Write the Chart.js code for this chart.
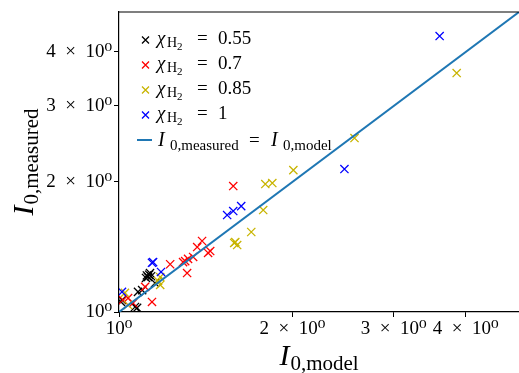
<!DOCTYPE html>
<html><head><meta charset="utf-8">
<script src="https://cdn.jsdelivr.net/npm/chart.js@4/dist/chart.umd.min.js"></script>
<style>html,body{margin:0;padding:0;background:#fff}#wrap{width:519px;height:373px;position:relative}</style>
</head><body><div id="wrap"><canvas id="c" width="519" height="373"></canvas></div>
<script>
// ---- data ----
const seriesNames = ['0.55', '0.7', '0.85', '1'];
const seriesColors = ['#000000', '#ff0000', '#c8b400', '#0000ff'];
const blackX = [1.123, 1.132, 1.114, 1.137, 1.128, 1.118, 1.155, 1.097, 1.079, 1.012, 1.008, 1.066, 1.075];
const blackY = [1.205, 1.231, 1.199, 1.210, 1.220, 1.215, 1.167, 1.124, 1.113, 1.066, 1.055, 1.027, 1.022];
const redX = [1.579, 1.394, 1.367, 1.440, 1.428, 1.345, 1.303, 1.292, 1.318, 1.227, 1.313, 1.141, 1.110, 1.037, 1.016, 1.058];
const redY = [1.957, 1.460, 1.414, 1.384, 1.370, 1.341, 1.312, 1.305, 1.327, 1.290, 1.231, 1.055, 1.143, 1.077, 1.066, 1.049];
const yellowX = [3.858, 2.564, 2.008, 1.795, 1.846, 1.780, 1.697, 1.592, 1.604, 1.585, 1.179, 1.169, 1.179, 1.024, 1.037];
const yellowY = [3.575, 2.528, 2.131, 1.978, 1.989, 1.722, 1.532, 1.452, 1.429, 1.445, 1.205, 1.180, 1.155, 1.107, 1.038];
const blueX = [3.604, 2.463, 1.541, 1.579, 1.630, 1.146, 1.141, 1.183, 1.012];
const blueY = [4.354, 2.143, 1.677, 1.713, 1.759, 1.305, 1.300, 1.238, 1.113];
const identityLine = [1, 4.95];
const tickValues = [1, 2, 3, 4];
const tickLabels = ['10⁰', '2\u2002×\u200210⁰', '3\u2002×\u200210⁰', '4\u2002×\u200210⁰'];
const axisMin = 1, axisMax = 4.95;

const SERIF = '"Liberation Serif", "DejaVu Serif", serif';
const pts = (xs, ys) => xs.map((x, i) => ({x: x, y: ys[i]}));
const allSeries = [[blackX, blackY], [redX, redY], [yellowX, yellowY], [blueX, blueY]];

const datasets = allSeries.map((s, i) => ({
  label: seriesNames[i],
  data: pts(s[0], s[1]),
  pointStyle: 'crossRot',
  pointRadius: 5.8,
  pointHoverRadius: 5.8,
  borderWidth: 1.3,
  borderColor: seriesColors[i],
  backgroundColor: seriesColors[i],
  showLine: false,
  order: 4 - i
}));
datasets.push({
  type: 'line',
  label: 'identity',
  data: identityLine.map(v => ({x: v, y: v})),
  borderColor: '#1f77b4',
  borderWidth: 2,
  pointRadius: 0,
  showLine: true,
  fill: false,
  order: 0
});

function rich(ctx, x, y, parts) {
  let cx = x;
  parts.forEach(p => {
    ctx.font = p.font;
    if (p.x !== undefined) cx = p.x;
    ctx.fillText(p.t, cx, y + (p.dy || 0));
    cx += ctx.measureText(p.t).width + (p.gap || 0);
  });
  return cx;
}
function richWidth(ctx, parts) {
  let w = 0;
  parts.forEach(p => { ctx.font = p.font; w += ctx.measureText(p.t).width + (p.gap || 0); });
  return w;
}

const overlay = {
  id: 'overlay',
  afterDraw(chart) {
    const ctx = chart.ctx, a = chart.chartArea;
    ctx.save();
    // top spine
    ctx.strokeStyle = '#000'; ctx.lineWidth = 1.2;
    ctx.beginPath();
    ctx.moveTo(a.left, a.top); ctx.lineTo(a.right, a.top);
    ctx.stroke();
    ctx.fillStyle = '#000';
    ctx.textBaseline = 'alphabetic';
    ctx.textAlign = 'left';
    // legend
    const it19 = 'italic 19px ' + SERIF, r19 = '19px ' + SERIF, r14 = '14px ' + SERIF, r11 = '11px ' + SERIF;
    const rows = [40, 65, 90, 115];
    rows.forEach((yc, i) => {
      ctx.strokeStyle = seriesColors[i]; ctx.lineWidth = 1.3;
      ctx.beginPath();
      ctx.moveTo(142, yc - 3.5); ctx.lineTo(149, yc + 3.5);
      ctx.moveTo(142, yc + 3.5); ctx.lineTo(149, yc - 3.5);
      ctx.stroke();
      ctx.fillStyle = '#000';
      rich(ctx, 157, yc + 4, [
        {t: 'χ', font: it19},
        {t: 'H', font: r14, dy: 3, x: 167},
        {t: '2', font: r11, dy: 6, x: 177},
        {t: '=', font: r19, x: 197},
        {t: seriesNames[i], font: r19, x: 218}
      ]);
    });
    const it20 = 'italic 20px ' + SERIF, r15 = '15px ' + SERIF;
    ctx.strokeStyle = '#1f77b4'; ctx.lineWidth = 2;
    ctx.beginPath(); ctx.moveTo(137, 140); ctx.lineTo(152, 140); ctx.stroke();
    ctx.fillStyle = '#000';
    rich(ctx, 158, 146, [
      {t: 'I', font: it20},
      {t: '0,measured', font: r15, dy: 4, x: 170},
      {t: '=', font: r19, x: 249},
      {t: 'I', font: it20, x: 271},
      {t: '0,model', font: r15, dy: 4, x: 283}
    ]);
    // axis titles
    const it30 = 'italic 30px ' + SERIF, r21 = '21px ' + SERIF;
    const xParts = [{t: 'I', font: it30, gap: 1}, {t: '0,model', font: r21, dy: 5}];
    const xw = richWidth(ctx, xParts);
    rich(ctx, (a.left + a.right) / 2 - xw / 2, 365, xParts);
    const yParts = [{t: 'I', font: it30, gap: 1}, {t: '0,measured', font: r21, dy: 5}];
    const yw = richWidth(ctx, yParts);
    ctx.translate(33, (a.top + a.bottom) / 2 + yw / 2);
    ctx.rotate(-Math.PI / 2);
    rich(ctx, 0, 0, yParts);
    ctx.restore();
  }
};

function axis(pos) {
  return {
    type: 'logarithmic',
    position: pos,
    min: axisMin,
    max: axisMax,
    afterBuildTicks: s => { s.ticks = tickValues.map(v => ({value: v})); },
    afterFit: s => {
      if (pos === 'left') s.width = 119; else s.height = 61;
      s.paddingLeft = 0; s.paddingRight = 0; s.paddingTop = 0; s.paddingBottom = 0;
    },
    ticks: {
      autoSkip: false, maxRotation: 0, minRotation: 0,
      color: '#000', padding: pos === 'left' ? 2 : 1,
      font: {family: SERIF, size: 19},
      callback: v => { const i = tickValues.indexOf(v); return i >= 0 ? tickLabels[i] : ''; }
    },
    grid: {display: true, drawOnChartArea: false, drawTicks: true, tickLength: 5, color: '#000', lineWidth: 1},
    border: {display: true, color: '#000', width: 1.2}
  };
}

new Chart(document.getElementById('c'), {
  type: 'scatter',
  data: {datasets: datasets},
  options: {
    responsive: false,
    animation: false,
    devicePixelRatio: 1,
    layout: {autoPadding: false, padding: {top: 12, right: 0, left: 0, bottom: 0}},
    plugins: {legend: {display: false}, tooltip: {enabled: false}},
    scales: {x: axis('bottom'), y: axis('left')}
  },
  plugins: [overlay]
});
</script>
</body></html>
